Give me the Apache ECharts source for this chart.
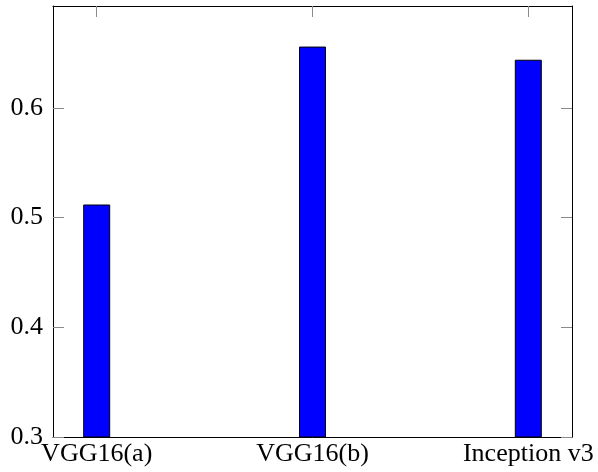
<!DOCTYPE html>
<html>
<head>
<meta charset="utf-8">
<script src="https://cdn.jsdelivr.net/npm/echarts@6/dist/echarts.min.js"></script>
<style>html,body{margin:0;padding:0;background:#fff;}#c{width:598px;height:472px;}</style>
</head>
<body>
<div id="c"></div>
<script>
const categories = ['VGG16(a)', 'VGG16(b)', 'Inception v3'];
const values = [0.512, 0.656, 0.644];
const yTicks = [0.3, 0.4, 0.5, 0.6];

const chart = echarts.init(document.getElementById('c'), null, {renderer: 'canvas'});
const catIdx = categories.map((_, i) => i);
const tickStyle = {show: true, inside: true, length: 11, lineStyle: {color: '#8a8a8a', width: 1}};
const lineStyle = {show: true, onZero: false, lineStyle: {color: '#000', width: 1}};
const font = 'Liberation Serif';

chart.setOption({
  animation: false,
  backgroundColor: '#fff',
  grid: {left: 53, right: 26, top: 6, bottom: 35, show: false, containLabel: false},
  xAxis: [
    {
      type: 'value', position: 'bottom', min: -0.2025, max: 2.2025,
      axisLine: lineStyle,
      axisTick: Object.assign({customValues: catIdx}, tickStyle),
      splitLine: {show: false},
      axisLabel: {customValues: catIdx, formatter: v => categories[Math.round(v)] || '', color: '#000', fontFamily: font, fontSize: 26, margin: 4}
    },
    {
      type: 'value', position: 'top', min: -0.2025, max: 2.2025,
      axisLine: lineStyle,
      axisTick: Object.assign({customValues: catIdx}, tickStyle),
      splitLine: {show: false},
      axisLabel: {show: false}
    }
  ],
  yAxis: [
    {
      type: 'value', position: 'left', min: 0.3, max: 0.693,
      axisLine: lineStyle,
      axisTick: Object.assign({customValues: yTicks}, tickStyle),
      splitLine: {show: false},
      axisLabel: {customValues: yTicks, formatter: v => v.toFixed(1), color: '#000', fontFamily: font, fontSize: 26, margin: 10}
    },
    {
      type: 'value', position: 'right', min: 0.3, max: 0.693,
      axisLine: lineStyle,
      axisTick: Object.assign({customValues: yTicks}, tickStyle),
      splitLine: {show: false},
      axisLabel: {show: false}
    }
  ],
  series: [{
    type: 'bar',
    xAxisIndex: 0, yAxisIndex: 0,
    barWidth: 27,
    data: values.map((v, i) => [i, v]),
    itemStyle: {color: '#0000ff', borderColor: '#000', borderWidth: 1}
  }]
});
</script>
</body>
</html>
